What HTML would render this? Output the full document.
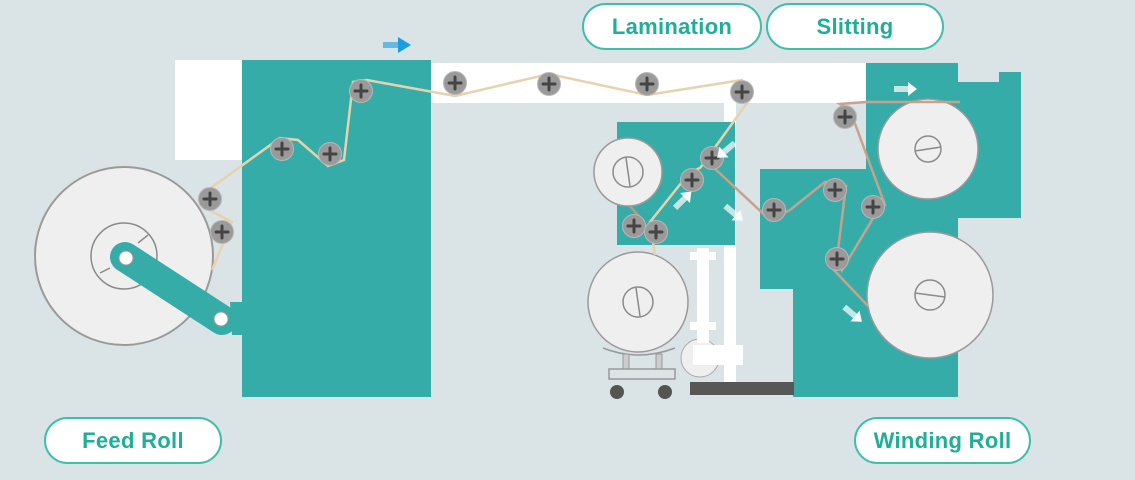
<!DOCTYPE html>
<html><head><meta charset="utf-8"><style>
html,body{margin:0;padding:0;background:#dae3e6;}
.pill{position:absolute;box-sizing:border-box;border:2px solid #3dbfa9;border-radius:24px;background:#fff;color:#1fae96;font-family:"Liberation Sans",sans-serif;font-size:22px;font-weight:bold;display:flex;align-items:center;justify-content:center;letter-spacing:0.3px}
</style></head><body>
<div style="position:relative;width:1135px;height:480px;overflow:hidden;background:#dae3e6">
<svg width="1135" height="480" viewBox="0 0 1135 480" style="position:absolute;left:0;top:0">
<defs>
<g id="idl"><circle r="11.5" fill="#9a9a9a" stroke="#b8b8b8" stroke-width="1"/><path d="M-6,0H6M0,-6V6" stroke="#444" stroke-width="3" stroke-linecap="round"/></g>
<g id="wa"><path d="M-14,0H2" stroke="#e8f6f6" stroke-width="6" opacity="0.8"/><path d="M0,-7L9,0L0,7Z" fill="#f4fbfb"/></g>
</defs>
<rect x="175" y="60" width="70" height="100" fill="#fff"/>
<rect x="431" y="63" width="435" height="40" fill="#fff"/>
<rect x="724" y="100" width="12" height="282" fill="#fff"/>
<rect x="242" y="60" width="189" height="337" fill="#36aca9"/>
<rect x="617" y="122" width="118" height="123" fill="#36aca9"/>
<rect x="760" y="169" width="40" height="120" fill="#36aca9"/>
<rect x="793" y="169" width="165" height="228" fill="#36aca9"/>
<path d="M866,63H958V82H999V72H1021V218H866Z" fill="#36aca9"/>
<circle cx="124" cy="256" r="89" fill="#efefef" stroke="#9a9a9a" stroke-width="2"/>
<circle cx="124" cy="256" r="33" fill="none" stroke="#8a8a8a" stroke-width="1.5"/>
<path d="M100,273L110,268M138,243L148,235" stroke="#8a8a8a" stroke-width="1.5"/>
<path d="M125,257L222,320" stroke="#36aca9" stroke-width="30" stroke-linecap="round"/>
<path d="M230,302L245,302L245,335L232,335Z" fill="#36aca9"/>
<circle cx="126" cy="258" r="7" fill="#fff" stroke="#999"/>
<circle cx="221" cy="319" r="7" fill="#fff" stroke="#999"/>
<circle cx="628" cy="172" r="34" fill="#efefef" stroke="#9a9a9a" stroke-width="1.5"/>
<circle cx="628" cy="172" r="15" fill="none" stroke="#8a8a8a" stroke-width="1.5"/>
<path d="M626,158L630,186" stroke="#8a8a8a" stroke-width="1.5"/>
<circle cx="638" cy="302" r="50" fill="#efefef" stroke="#9a9a9a" stroke-width="1.5"/>
<circle cx="638" cy="302" r="15" fill="none" stroke="#8a8a8a" stroke-width="1.5"/>
<path d="M636,288L640,316" stroke="#8a8a8a" stroke-width="1.5"/>
<path d="M603,348Q638,362 675,348" stroke="#999" stroke-width="1.5" fill="none"/>
<rect x="623" y="354" width="6" height="16" fill="#ccc" stroke="#999"/>
<rect x="656" y="354" width="6" height="16" fill="#ccc" stroke="#999"/>
<rect x="609" y="369" width="66" height="10" fill="#dde4e6" stroke="#999" stroke-width="1.5"/>
<circle cx="617" cy="392" r="7" fill="#555"/><circle cx="665" cy="392" r="7" fill="#555"/>
<circle cx="700" cy="358" r="19" fill="#efefef" stroke="#aaa"/>
<rect x="697" y="248" width="12" height="95" fill="#fff"/>
<rect x="690" y="252" width="26" height="8" fill="#fff"/>
<rect x="690" y="322" width="26" height="8" fill="#fff"/>
<rect x="693" y="345" width="50" height="20" fill="#fff"/>
<rect x="690" y="382" width="104" height="13" fill="#575757"/>
<circle cx="928" cy="149" r="50" fill="#efefef" stroke="#9a9a9a" stroke-width="1.5"/>
<circle cx="928" cy="149" r="13" fill="none" stroke="#8a8a8a" stroke-width="1.5"/>
<path d="M915,151L941,147" stroke="#8a8a8a" stroke-width="1.5"/>
<circle cx="930" cy="295" r="63" fill="#efefef" stroke="#9a9a9a" stroke-width="1.5"/>
<circle cx="930" cy="295" r="15" fill="none" stroke="#8a8a8a" stroke-width="1.5"/>
<path d="M915,293L945,297" stroke="#8a8a8a" stroke-width="1.5"/>
<path d="M212,270L232,222L200,205L208,190L280,138L298,140L328,166L344,160L353,82L367,80L455,96L549,74L647,95L742,80L752,96L716,146L708,158L700,168L690,172L650,222L655,255" stroke="#e6d2ad" stroke-width="2.5" fill="none"/>
<path d="M630,206L644,222L650,242" stroke="#b99a85" stroke-width="2.5" fill="none"/>
<path d="M712,166L770,220L790,210L825,182L846,186L838,250L842,270L875,215L885,205L850,110L840,104L866,102L960,102" stroke="#c7a28c" stroke-width="2.5" fill="none"/>
<path d="M832,268L868,306" stroke="#c7a28c" stroke-width="2.5" fill="none"/>
<use href="#idl" x="210" y="199"/><use href="#idl" x="222" y="232"/>
<use href="#idl" x="282" y="149"/><use href="#idl" x="330" y="154"/>
<use href="#idl" x="361" y="91"/><use href="#idl" x="455" y="83"/>
<use href="#idl" x="549" y="84"/><use href="#idl" x="647" y="84"/>
<use href="#idl" x="742" y="92"/><use href="#idl" x="712" y="158"/>
<use href="#idl" x="692" y="180"/><use href="#idl" x="634" y="226"/>
<use href="#idl" x="656" y="232"/><use href="#idl" x="774" y="210"/>
<use href="#idl" x="835" y="190"/><use href="#idl" x="873" y="207"/>
<use href="#idl" x="837" y="259"/><use href="#idl" x="845" y="117"/>
<path d="M383,45H400" stroke="#33a8e0" stroke-width="6" opacity="0.7"/><path d="M398,37L411,45L398,53Z" fill="#1a9ee0"/>
<use href="#wa" x="908" y="89"/>
<use href="#wa" transform="translate(724,152) rotate(140)"/>
<use href="#wa" transform="translate(685,198) rotate(-45)"/>
<use href="#wa" transform="translate(736,215) rotate(40)"/>
<use href="#wa" transform="translate(855,316) rotate(40)"/>
</svg>
<div class="pill" style="left:582px;top:3px;width:180px;height:47px">Lamination</div>
<div class="pill" style="left:766px;top:3px;width:178px;height:47px">Slitting</div>
<div class="pill" style="left:44px;top:417px;width:178px;height:47px">Feed Roll</div>
<div class="pill" style="left:854px;top:417px;width:177px;height:47px">Winding Roll</div>
</div>
</body></html>
